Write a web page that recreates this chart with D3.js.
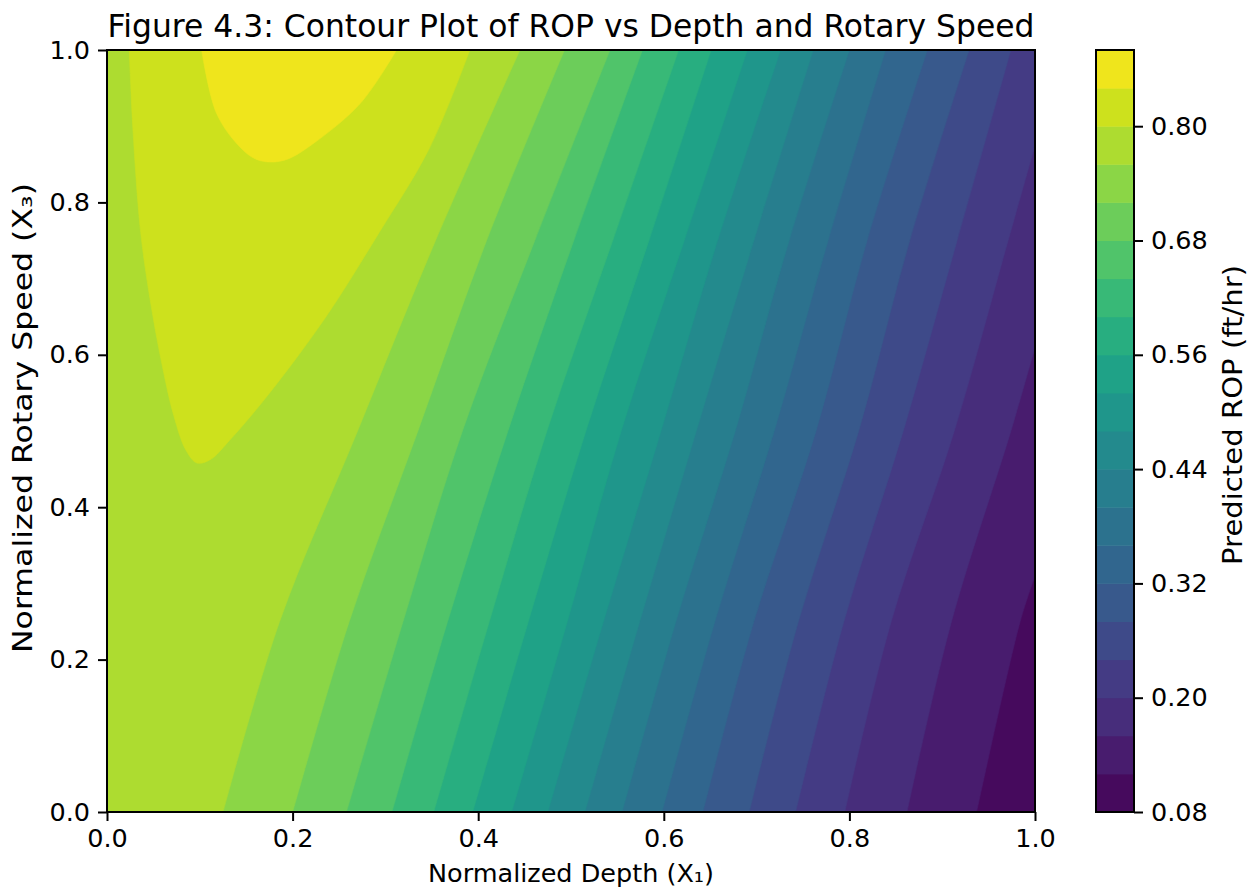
<!DOCTYPE html>
<html><head><meta charset="utf-8">
<script src="https://cdn.jsdelivr.net/npm/d3@7"></script>
<style>
body{margin:0;background:#fff}
svg text{font-family:"DejaVu Sans",sans-serif;fill:#000}
</style>
</head><body>
<svg id="chart" width="1255" height="894"></svg>
<script>
// ---------------- data ----------------
const contourLevels = [0.08,0.12,0.16,0.20,0.24,0.28,0.32,0.36,0.40,0.44,0.48,0.52,0.56,0.60,0.64,0.68,0.72,0.76,0.80,0.84,0.88];
const colorbarTicks = [0.08,0.20,0.32,0.44,0.56,0.68,0.80];
const xTicks = [0.0,0.2,0.4,0.6,0.8,1.0];
const yTicks = [0.0,0.2,0.4,0.6,0.8,1.0];
const titleText = "Figure 4.3: Contour Plot of ROP vs Depth and Rotary Speed";
const xLabelText = "Normalized Depth (X\u2081)";
const yLabelText = "Normalized Rotary Speed (X\u2083)";
const cbLabelText = "Predicted ROP (ft/hr)";

// iso-lines: level value and [X1, X3] points where that level's boundary lies
const isoLevels = [0.12,0.16,0.20,0.24,0.28,0.32,0.36,0.40,0.44,0.48,0.52,0.56,0.60,0.64,0.68,0.72,0.76,0.80,0.84];
const isoLines = [
  [[0.937,0],[0.984,0.25],[1.0,0.31]],
  [[0.862,0],[0.910,0.25],[0.974,0.5],[1.0,0.61]],
  [[0.795,0],[0.845,0.25],[0.913,0.5],[0.971,0.75],[1.0,0.875]],
  [[0.742,0],[0.794,0.25],[0.858,0.5],[0.916,0.75],[0.974,1]],
  [[0.692,0],[0.745,0.25],[0.810,0.5],[0.865,0.75],[0.929,1]],
  [[0.642,0],[0.697,0.25],[0.764,0.5],[0.819,0.75],[0.884,1]],
  [[0.598,0],[0.655,0.25],[0.719,0.5],[0.777,0.75],[0.839,1]],
  [[0.555,0],[0.613,0.25],[0.677,0.5],[0.735,0.75],[0.800,1]],
  [[0.515,0],[0.574,0.25],[0.635,0.5],[0.697,0.75],[0.761,1]],
  [[0.475,0],[0.535,0.25],[0.597,0.5],[0.658,0.75],[0.726,1]],
  [[0.436,0],[0.496,0.25],[0.554,0.5],[0.622,0.75],[0.690,1]],
  [[0.394,0],[0.454,0.25],[0.516,0.5],[0.584,0.75],[0.651,1]],
  [[0.352,0],[0.412,0.25],[0.474,0.5],[0.545,0.75],[0.616,1]],
  [[0.307,0],[0.367,0.25],[0.432,0.5],[0.503,0.75],[0.577,1]],
  [[0.258,0],[0.319,0.25],[0.383,0.5],[0.461,0.75],[0.542,1]],
  [[0.200,0],[0.261,0.25],[0.335,0.5],[0.409,0.75],[0.493,1]],
  [[0.125,0],[0.186,0.25],[0.270,0.5],[0.354,0.75],[0.445,1]],
  [[0.024,1.0],[0.028,0.895],[0.036,0.764],[0.046,0.676],[0.059,0.589],[0.072,0.52],[0.085,0.475],[0.097,0.458],[0.112,0.463],[0.130,0.485],[0.172,0.545],[0.236,0.650],[0.293,0.760],[0.347,0.870],[0.391,1.0]],
  [[0.102,1.0],[0.118,0.917],[0.143,0.873],[0.160,0.857],[0.177,0.853],[0.195,0.857],[0.222,0.877],[0.273,0.93],[0.312,1.0]]
];

// ---------------- layout ----------------
const W = 1255, H = 894;
const plot = {left:107, right:1035, top:50, bottom:812};
const cb = {left:1096, right:1134, top:50, bottom:812};
const fs = 25.5, titleFs = 31.4, sideFs = 26;

const svg = d3.select("#chart");
svg.append("rect").attr("width",W).attr("height",H).attr("fill","#fff");

const x = d3.scaleLinear().domain([0,1]).range([plot.left,plot.right]);
const y = d3.scaleLinear().domain([0,1]).range([plot.bottom,plot.top]);
const nBands = contourLevels.length - 1;
const bandColor = i => d3.interpolateViridis((i + 0.5) / nBands);
const levelIndex = v => contourLevels.findIndex(l => Math.abs(l - v) < 1e-9);

svg.append("clipPath").attr("id","plotClip").append("rect")
  .attr("x",plot.left).attr("y",plot.top)
  .attr("width",plot.right-plot.left).attr("height",plot.bottom-plot.top);

const gPlot = svg.append("g").attr("clip-path","url(#plotClip)");
gPlot.append("rect")
  .attr("x",x(0)).attr("y",y(1)).attr("width",x(1)-x(0)).attr("height",y(0)-y(1))
  .attr("fill",bandColor(0));

const lineGen = d3.line().x(d=>x(d[0])).y(d=>y(d[1])).curve(d3.curveCatmullRom.alpha(0.5));
function superlevelPath(pts){
  const corners = [];
  const first = pts[0], last = pts[pts.length-1];
  if (first[1] === 0) {            // boundary runs from the bottom edge
    if (last[0] === 1) corners.push([1,1]);
    corners.push([0,1],[0,0]);
  }
  return lineGen(pts) + corners.map(c => "L" + x(c[0]) + "," + y(c[1])).join("") + "Z";
}
isoLevels.forEach((lv, k) => {
  gPlot.append("path")
    .attr("d", superlevelPath(isoLines[k]))
    .attr("fill", bandColor(levelIndex(lv)))
    .attr("stroke", bandColor(levelIndex(lv)))
    .attr("stroke-width", 0.6);
});

// frame
svg.append("rect").attr("x",plot.left).attr("y",plot.top)
  .attr("width",plot.right-plot.left).attr("height",plot.bottom-plot.top)
  .attr("fill","none").attr("stroke","#000").attr("stroke-width",2);

function styleAxis(g){
  g.select(".domain").remove();
  g.selectAll(".tick line").attr("stroke","#000").attr("stroke-width",2);
  g.selectAll(".tick text").attr("font-size",fs).attr("font-family","DejaVu Sans").attr("fill","#000");
}
svg.append("g").attr("transform",`translate(0,${plot.bottom})`)
  .call(d3.axisBottom(x).tickValues(xTicks).tickFormat(d3.format(".1f")).tickSize(9).tickPadding(8))
  .call(styleAxis);
svg.append("g").attr("transform",`translate(${plot.left},0)`)
  .call(d3.axisLeft(y).tickValues(yTicks).tickFormat(d3.format(".1f")).tickSize(9).tickPadding(8))
  .call(styleAxis);

// ---------------- colorbar ----------------
const cbScale = d3.scaleLinear().domain([contourLevels[0], contourLevels[nBands]]).range([cb.bottom, cb.top]);
const gcb = svg.append("g");
gcb.selectAll("rect.band").data(d3.range(nBands)).join("rect").attr("class","band")
  .attr("x",cb.left).attr("width",cb.right-cb.left)
  .attr("y",i=>cbScale(contourLevels[i+1])).attr("height",i=>cbScale(contourLevels[i])-cbScale(contourLevels[i+1])+0.5)
  .attr("fill",i=>bandColor(i));
gcb.append("rect").attr("x",cb.left).attr("y",cb.top).attr("width",cb.right-cb.left).attr("height",cb.bottom-cb.top)
  .attr("fill","none").attr("stroke","#000").attr("stroke-width",2);
svg.append("g").attr("transform",`translate(${cb.right},0)`)
  .call(d3.axisRight(cbScale).tickValues(colorbarTicks).tickFormat(d3.format(".2f")).tickSize(9).tickPadding(8))
  .call(styleAxis);

// ---------------- texts ----------------
svg.append("text").attr("x",(plot.left+plot.right)/2).attr("y",37)
  .attr("text-anchor","middle").attr("font-size",titleFs).text(titleText);
svg.append("text").attr("x",(plot.left+plot.right)/2).attr("y",882)
  .attr("text-anchor","middle").attr("font-size",fs).text(xLabelText);
svg.append("text").attr("transform",`translate(32,418) rotate(-90)`)
  .attr("text-anchor","middle").attr("font-size",sideFs)
  .attr("textLength",470).attr("lengthAdjust","spacingAndGlyphs").text(yLabelText);
svg.append("text").attr("transform",`translate(1242,415) rotate(-90)`)
  .attr("text-anchor","middle").attr("font-size",sideFs)
  .attr("textLength",300).attr("lengthAdjust","spacingAndGlyphs").text(cbLabelText);
</script>
</body></html>
